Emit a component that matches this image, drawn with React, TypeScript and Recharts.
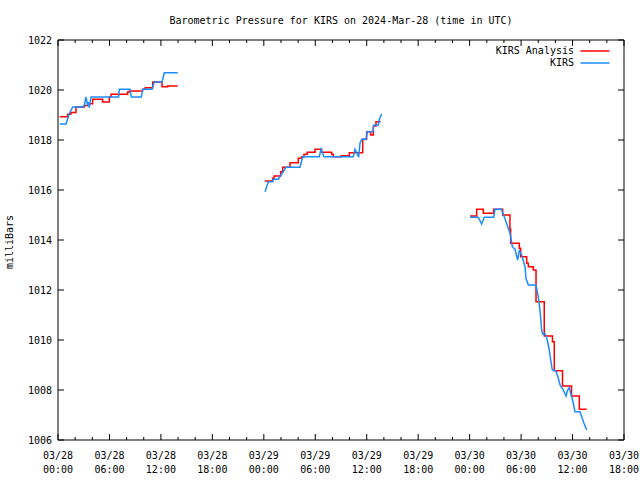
import React from "react";
import { LineChart, Line, XAxis, YAxis, Legend } from "recharts";

const FONT = "'DejaVu Sans Mono', 'Liberation Mono', monospace";

// Hours since 2024-03-28 00:00 UTC, pressure in millibars
const analysisSeg1: [number, number][] = [
  [0.2, 1018.93], [1.13, 1019.03], [1.5, 1019.1], [2.1, 1019.32], [3.07, 1019.38],
  [3.46, 1019.45], [4.04, 1019.63], [5.2, 1019.52], [5.98, 1019.72], [6.18, 1019.83],
  [8.12, 1019.92], [8.32, 1019.96], [9.87, 1020.03], [10.18, 1020.09], [11.04, 1020.32],
  [12.13, 1020.13], [12.79, 1020.16], [13.95, 1020.16],
];
const analysisSeg2: [number, number][] = [
  [24.14, 1016.36], [25.03, 1016.47], [25.19, 1016.56], [25.96, 1016.73], [26.2, 1016.91],
  [27.05, 1017.09], [28.02, 1017.27], [28.41, 1017.33], [28.68, 1017.43], [29.07, 1017.51],
  [29.97, 1017.63], [30.74, 1017.51], [31.91, 1017.43], [32.1, 1017.33], [33.0, 1017.37],
  [33.97, 1017.49], [35.53, 1018.03], [35.99, 1018.33], [36.46, 1018.2], [36.77, 1018.56],
  [37.08, 1018.73], [37.62, 1018.73],
];
const analysisSeg3: [number, number][] = [
  [48.04, 1014.96], [48.82, 1015.23], [49.59, 1015.07], [50.8, 1015.23], [51.85, 1015.0],
  [52.7, 1014.43], [52.78, 1013.87], [53.79, 1013.67], [53.95, 1013.33], [54.65, 1013.07],
  [54.84, 1012.93], [55.42, 1012.8], [55.74, 1011.53], [56.7, 1010.16], [57.66, 1009.93],
  [57.87, 1008.77], [58.83, 1008.16], [59.88, 1007.76], [60.79, 1007.23], [61.65, 1007.23],
];

const kirsSeg1: [number, number][] = [
  [0.2, 1018.64], [0.93, 1018.64], [1.32, 1019.05], [1.55, 1019.21], [1.71, 1019.32],
  [2.95, 1019.32], [3.07, 1019.39], [3.26, 1019.72], [3.46, 1019.39], [3.55, 1019.52],
  [3.65, 1019.29], [3.85, 1019.72], [7.07, 1019.72], [7.15, 1020.03], [8.4, 1020.03],
  [8.55, 1019.72], [9.72, 1019.72], [9.87, 1020.03], [10.96, 1020.03], [11.23, 1020.32],
  [12.13, 1020.32], [12.4, 1020.69], [13.96, 1020.69],
];
const kirsSeg2: [number, number][] = [
  [24.14, 1015.93], [24.53, 1016.33], [25.03, 1016.33], [25.1, 1016.43], [25.69, 1016.43],
  [26.59, 1016.91], [28.22, 1016.91], [28.53, 1017.33], [30.47, 1017.33], [30.67, 1017.63],
  [31.02, 1017.33], [34.44, 1017.33], [34.63, 1017.63], [34.83, 1017.49], [35.06, 1017.31],
  [35.21, 1017.87], [35.41, 1018.03], [35.91, 1018.03], [36.07, 1018.33], [36.69, 1018.33],
  [36.85, 1018.6], [37.35, 1018.6], [37.47, 1018.83], [37.74, 1019.04],
];
const kirsSeg3: [number, number][] = [
  [48.04, 1014.91], [49.0, 1014.91], [49.4, 1014.64], [49.71, 1014.91], [50.8, 1014.91],
  [50.96, 1015.23], [51.7, 1015.23], [51.81, 1015.13], [52.04, 1014.93], [52.71, 1014.27],
  [52.98, 1013.73], [53.29, 1013.63], [53.6, 1013.2], [53.79, 1013.57], [54.07, 1013.4],
  [54.46, 1012.93], [54.57, 1012.47], [54.84, 1012.2], [55.74, 1012.2], [56.0, 1011.73],
  [56.2, 1011.2], [56.4, 1010.4], [56.51, 1010.24], [56.79, 1010.24], [56.98, 1010.1],
  [57.29, 1009.6], [57.45, 1009.2], [57.64, 1008.8], [58.03, 1008.77], [58.15, 1008.67],
  [58.34, 1008.47], [58.54, 1008.2], [58.92, 1008.0], [59.24, 1007.76], [59.43, 1008.0],
  [59.62, 1008.1], [59.78, 1007.87], [59.9, 1007.73], [60.09, 1007.47], [60.28, 1007.13],
  [60.87, 1007.13], [61.07, 1006.93], [61.33, 1006.67], [61.65, 1006.4],
];

const xTicks = [0, 2, 4, 6, 8, 10, 12, 14, 16, 18, 20, 22, 24, 26, 28, 30, 32, 34, 36, 38, 40, 42, 44, 46, 48, 50, 52, 54, 56, 58, 60, 62, 64, 66];
const xMajorTicks = [0, 6, 12, 18, 24, 30, 36, 42, 48, 54, 60, 66];
const xDateLabels = ["03/28", "03/28", "03/28", "03/28", "03/29", "03/29", "03/29", "03/29", "03/30", "03/30", "03/30", "03/30"];
const xTimeLabels = ["00:00", "06:00", "12:00", "18:00", "00:00", "06:00", "12:00", "18:00", "00:00", "06:00", "12:00", "18:00"];
const yTicks = [1006, 1008, 1010, 1012, 1014, 1016, 1018, 1020, 1022];

const legendItems = [
  { name: "KIRS Analysis", color: "#ff0000" },
  { name: "KIRS", color: "#1a8cff" },
];

type Row = { t: number; v: number | null };
const toRows = (segs: [number, number][][]): Row[] => {
  const rows: Row[] = [];
  segs.forEach((seg, i) => {
    if (i > 0) {
      const prevEnd = segs[i - 1][segs[i - 1].length - 1][0];
      rows.push({ t: (prevEnd + seg[0][0]) / 2, v: null });
    }
    seg.forEach(([t, v]) => rows.push({ t, v }));
  });
  return rows;
};

const analysisRows = toRows([analysisSeg1, analysisSeg2, analysisSeg3]);
const kirsRows = toRows([kirsSeg1, kirsSeg2, kirsSeg3]);

const BottomTick = (props: any) => {
  const { x, y, payload } = props;
  const i = xMajorTicks.indexOf(payload.value);
  const major = i >= 0;
  return (
    <g>
      <line x1={x} x2={x} y1={y} y2={y - (major ? 6 : 3)} stroke="#000" />
      {major && (
        <text textAnchor="middle" fontFamily={FONT} fontSize={10} fill="#000">
          <tspan x={x} y={y + 19}>{xDateLabels[i]}</tspan>
          <tspan x={x} y={y + 33}>{xTimeLabels[i]}</tspan>
        </text>
      )}
    </g>
  );
};

const TopTick = (props: any) => {
  const { x, y, payload } = props;
  const major = xMajorTicks.indexOf(payload.value) >= 0;
  return <line x1={x} x2={x} y1={y} y2={y + (major ? 6 : 3)} stroke="#000" />;
};

const LeftTick = (props: any) => {
  const { x, y, payload } = props;
  return (
    <g>
      <line x1={x} x2={x + 6} y1={y} y2={y} stroke="#000" />
      <text x={x - 6} y={y + 3.5} textAnchor="end" fontFamily={FONT} fontSize={10} fill="#000">
        {payload.value}
      </text>
    </g>
  );
};

const RightTick = (props: any) => {
  const { x, y } = props;
  return <line x1={x} x2={x - 6} y1={y} y2={y} stroke="#000" />;
};

const renderLegend = () => (
  <div style={{ fontFamily: FONT, fontSize: 10, color: "#000" }}>
    {legendItems.map((item) => (
      <div
        key={item.name}
        style={{ display: "flex", justifyContent: "flex-end", alignItems: "center", height: 12, lineHeight: "12px" }}
      >
        <span style={{ whiteSpace: "pre" }}>{item.name}</span>
        <svg width={36} height={4} style={{ display: "block" }}>
          <line x1={6.5} x2={35.5} y1={2} y2={2} stroke={item.color} strokeWidth={1.5} />
        </svg>
      </div>
    ))}
  </div>
);

export default function App() {
  return (
    <div style={{ position: "absolute", left: 0, top: 0, width: 640, height: 480, background: "#fff" }}>
      <div
        style={{
          position: "absolute", left: 58, width: 566, top: 15, textAlign: "center",
          fontFamily: FONT, fontSize: 10, lineHeight: "12px", color: "#000", whiteSpace: "pre",
        }}
      >
        Barometric Pressure for KIRS on 2024-Mar-28 (time in UTC)
      </div>
      <div
        style={{
          position: "absolute", left: 10, top: 242, transform: "translate(-50%, -50%) rotate(-90deg)",
          fontFamily: FONT, fontSize: 10, lineHeight: "12px", color: "#000", whiteSpace: "nowrap",
        }}
      >
        milliBars
      </div>
      <LineChart width={640} height={480} margin={{ top: 39, right: 15, bottom: 0, left: 0 }}>
        <XAxis
          dataKey="t" type="number" domain={[0, 66]} ticks={xTicks} interval={0}
          allowDataOverflow height={40} tickSize={0} tickMargin={0} tick={<BottomTick />}
          axisLine={{ stroke: "#000" }} tickLine={false}
        />
        <XAxis
          xAxisId="top" orientation="top" dataKey="t" type="number" domain={[0, 66]} ticks={xTicks}
          interval={0} allowDataOverflow height={1} tickSize={0} tickMargin={0} tick={<TopTick />}
          axisLine={{ stroke: "#000" }} tickLine={false}
        />
        <YAxis
          type="number" domain={[1006, 1022]} ticks={yTicks} interval={0} allowDataOverflow width={58}
          tickSize={0} tickMargin={0} tick={<LeftTick />} axisLine={{ stroke: "#000" }} tickLine={false}
        />
        <YAxis
          yAxisId="right" orientation="right" type="number" domain={[1006, 1022]} ticks={yTicks}
          interval={0} allowDataOverflow width={1} tickSize={0} tickMargin={0} tick={<RightTick />}
          axisLine={{ stroke: "#000" }} tickLine={false}
        />
        <Legend
          layout="horizontal" verticalAlign="middle" align="center" content={renderLegend}
          wrapperStyle={{ top: 45, left: "auto", right: 30, width: "auto", bottom: "auto" }}
        />
        <Line
          data={kirsRows} dataKey="v" xAxisId="top" yAxisId="right" type="linear" stroke="none"
          strokeWidth={0} dot={false} activeDot={false} isAnimationActive={false} legendType="none"
        />
        <Line
          data={analysisRows} dataKey="v" name="KIRS Analysis" type="stepAfter" stroke="#ff0000"
          strokeWidth={1.5} dot={false} activeDot={false} isAnimationActive={false} connectNulls={false}
        />
        <Line
          data={kirsRows} dataKey="v" name="KIRS" type="linear" stroke="#1a8cff"
          strokeWidth={1.5} dot={false} activeDot={false} isAnimationActive={false} connectNulls={false}
        />
      </LineChart>
    </div>
  );
}
